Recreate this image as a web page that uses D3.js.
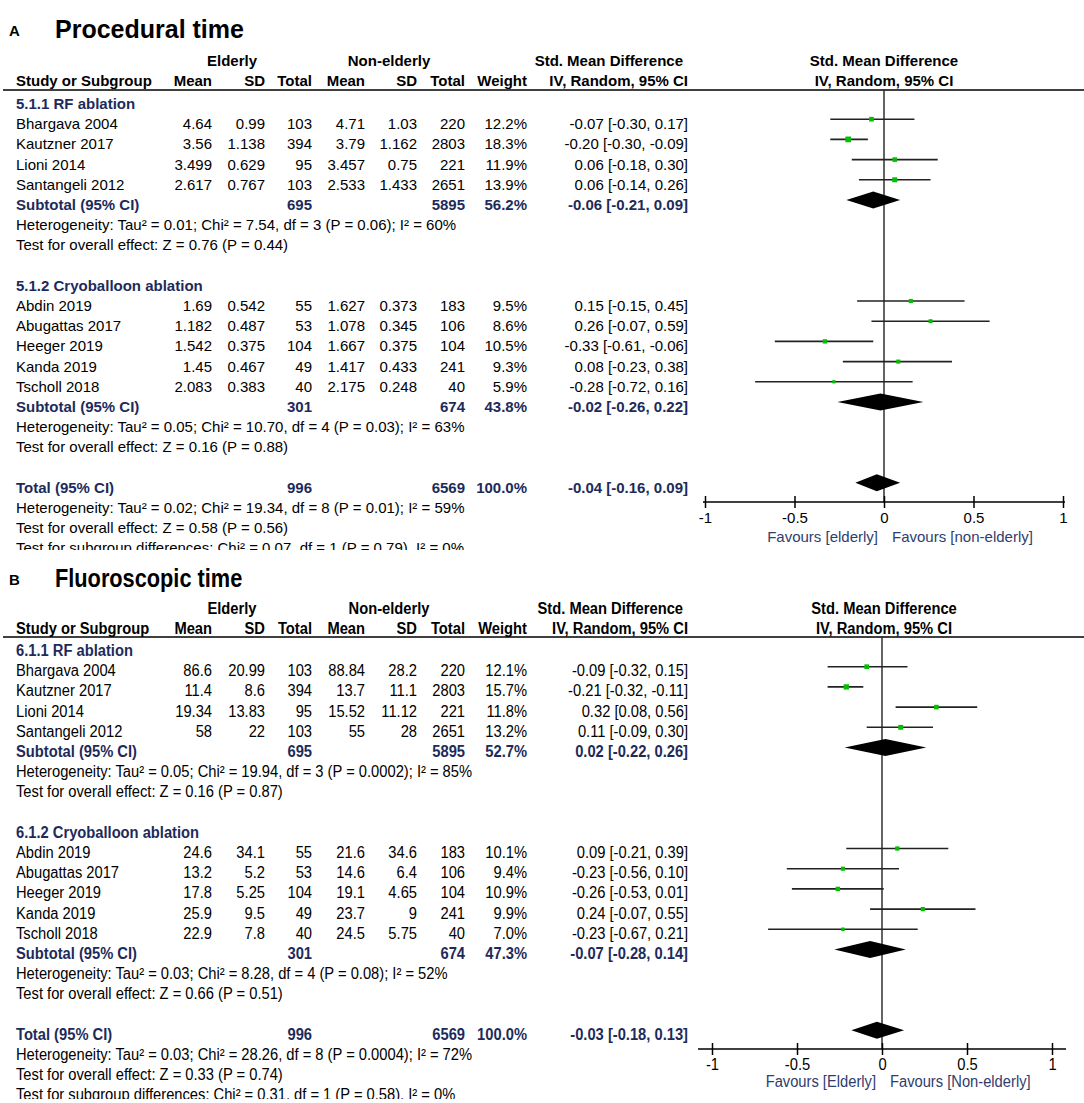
<!DOCTYPE html>
<html>
<head>
<meta charset="utf-8">
<script src="https://cdn.jsdelivr.net/npm/d3@7"></script>
<style>
body { margin: 0; background: #fff; }
svg text { font-family: "Liberation Sans", Arial, sans-serif; }
</style>
</head>
<body>
<svg id="chart" width="1084" height="1103"></svg>
<script>
// study names (same in both panels)
var studiesRF = ["Bhargava 2004", "Kautzner 2017", "Lioni 2014", "Santangeli 2012"];
var studiesCryo = ["Abdin 2019", "Abugattas 2017", "Heeger 2019", "Kanda 2019", "Tscholl 2018"];
var tickValues = [-1, -0.5, 0, 0.5, 1];

// A - procedural time
var procGroups = ["5.1.1 RF ablation", "5.1.2 Cryoballoon ablation"];
var procMeanE = [4.64, 3.56, 3.499, 2.617, 1.69, 1.182, 1.542, 1.45, 2.083];
var procSdE = [0.99, 1.138, 0.629, 0.767, 0.542, 0.487, 0.375, 0.467, 0.383];
var procNE = [103, 394, 95, 103, 55, 53, 104, 49, 40];
var procMeanN = [4.71, 3.79, 3.457, 2.533, 1.627, 1.078, 1.667, 1.417, 2.175];
var procSdN = [1.03, 1.162, 0.75, 1.433, 0.373, 0.345, 0.375, 0.433, 0.248];
var procNN = [220, 2803, 221, 2651, 183, 106, 104, 241, 40];
var procWeight = [12.2, 18.3, 11.9, 13.9, 9.5, 8.6, 10.5, 9.3, 5.9];
var procSmd = [-0.07, -0.20, 0.06, 0.06, 0.15, 0.26, -0.33, 0.08, -0.28];
var procLo = [-0.30, -0.30, -0.18, -0.14, -0.15, -0.07, -0.61, -0.23, -0.72];
var procHi = [0.17, -0.09, 0.30, 0.26, 0.45, 0.59, -0.06, 0.38, 0.16];
var procSubNE = [695, 301];
var procSubNN = [5895, 674];
var procSubWeight = [56.2, 43.8];
var procSubSmd = [-0.06, -0.02];
var procSubLo = [-0.21, -0.26];
var procSubHi = [0.09, 0.22];
var procTotalN = [996, 6569];
var procTotal = [-0.04, -0.16, 0.09];
var procHet = ["Heterogeneity: Tau\u00b2 = 0.01; Chi\u00b2 = 7.54, df = 3 (P = 0.06); I\u00b2 = 60%",
               "Heterogeneity: Tau\u00b2 = 0.05; Chi\u00b2 = 10.70, df = 4 (P = 0.03); I\u00b2 = 63%",
               "Heterogeneity: Tau\u00b2 = 0.02; Chi\u00b2 = 19.34, df = 8 (P = 0.01); I\u00b2 = 59%"];
var procZ = ["Test for overall effect: Z = 0.76 (P = 0.44)",
             "Test for overall effect: Z = 0.16 (P = 0.88)",
             "Test for overall effect: Z = 0.58 (P = 0.56)"];
var procDiff = "Test for subgroup differences: Chi\u00b2 = 0.07, df = 1 (P = 0.79), I\u00b2 = 0%";

// B - fluoroscopic time
var fluoGroups = ["6.1.1 RF ablation", "6.1.2 Cryoballoon ablation"];
var fluoMeanE = [86.6, 11.4, 19.34, 58, 24.6, 13.2, 17.8, 25.9, 22.9];
var fluoSdE = [20.99, 8.6, 13.83, 22, 34.1, 5.2, 5.25, 9.5, 7.8];
var fluoNE = [103, 394, 95, 103, 55, 53, 104, 49, 40];
var fluoMeanN = [88.84, 13.7, 15.52, 55, 21.6, 14.6, 19.1, 23.7, 24.5];
var fluoSdN = [28.2, 11.1, 11.12, 28, 34.6, 6.4, 4.65, 9, 5.75];
var fluoNN = [220, 2803, 221, 2651, 183, 106, 104, 241, 40];
var fluoWeight = [12.1, 15.7, 11.8, 13.2, 10.1, 9.4, 10.9, 9.9, 7.0];
var fluoSmd = [-0.09, -0.21, 0.32, 0.11, 0.09, -0.23, -0.26, 0.24, -0.23];
var fluoLo = [-0.32, -0.32, 0.08, -0.09, -0.21, -0.56, -0.53, -0.07, -0.67];
var fluoHi = [0.15, -0.11, 0.56, 0.30, 0.39, 0.10, 0.01, 0.55, 0.21];
var fluoSubNE = [695, 301];
var fluoSubNN = [5895, 674];
var fluoSubWeight = [52.7, 47.3];
var fluoSubSmd = [0.02, -0.07];
var fluoSubLo = [-0.22, -0.28];
var fluoSubHi = [0.26, 0.14];
var fluoTotalN = [996, 6569];
var fluoTotal = [-0.03, -0.18, 0.13];
var fluoHet = ["Heterogeneity: Tau\u00b2 = 0.05; Chi\u00b2 = 19.94, df = 3 (P = 0.0002); I\u00b2 = 85%",
               "Heterogeneity: Tau\u00b2 = 0.03; Chi\u00b2 = 8.28, df = 4 (P = 0.08); I\u00b2 = 52%",
               "Heterogeneity: Tau\u00b2 = 0.03; Chi\u00b2 = 28.26, df = 8 (P = 0.0004); I\u00b2 = 72%"];
var fluoZ = ["Test for overall effect: Z = 0.16 (P = 0.87)",
             "Test for overall effect: Z = 0.66 (P = 0.51)",
             "Test for overall effect: Z = 0.33 (P = 0.74)"];
var fluoDiff = "Test for subgroup differences: Chi\u00b2 = 0.31, df = 1 (P = 0.58), I\u00b2 = 0%";

var navy = "#1d2b5a";
var green = "#00c000";

var svg = d3.select("#chart");

// column right edges
var col = { left: 16, meanE: 212, sdE: 265, nE: 312, meanN: 365, sdN: 417, nN: 465, weight: 527, ci: 688 };

function num2(v) { return (v < 0 ? "-" : "") + Math.abs(v).toFixed(2); }
function ciText(e, lo, hi) { return num2(e) + " [" + num2(lo) + ", " + num2(hi) + "]"; }
function pct(v) { return v.toFixed(1) + "%"; }
function tickFmt(v) { return (v < 0 ? "-" : "") + Math.abs(v); }

function drawPanel(p) {
	var g = svg.append("g").attr("clip-path", "url(#" + p.id + ")");
	svg.append("clipPath").attr("id", p.id)
		.append("rect").attr("x", 0).attr("y", p.clipTop).attr("width", 1084).attr("height", p.clipBottom - p.clipTop);

	function txt(x, y, s, anchor, weight, fill, size) {
		return g.append("text")
			.attr("transform", "translate(" + x + "," + y + ") scale(" + p.sx + ",1)")
			.attr("text-anchor", anchor || "start")
			.attr("font-size", size || p.fs)
			.attr("font-weight", weight || "normal")
			.attr("fill", fill || "#000")
			.text(s);
	}

	// title
	g.append("text").attr("x", 9).attr("y", p.titleY - 2)
		.attr("font-size", 15).attr("font-weight", "bold").text(p.letter);
	g.append("text")
		.attr("transform", "translate(55," + p.titleY + ") scale(" + p.titleSx + ",1)")
		.attr("font-size", 25).attr("font-weight", "bold").text(p.title);

	// headers
	var h1 = p.headY, h2 = p.headY + 20;
	txt(232, h1, "Elderly", "middle", "bold");
	txt(389, h1, "Non-elderly", "middle", "bold");
	txt(683, h1, "Std. Mean Difference", "end", "bold");
	txt(884, h1, "Std. Mean Difference", "middle", "bold");
	txt(col.left, h2, "Study or Subgroup", "start", "bold");
	txt(col.meanE, h2, "Mean", "end", "bold");
	txt(col.sdE, h2, "SD", "end", "bold");
	txt(col.nE, h2, "Total", "end", "bold");
	txt(col.meanN, h2, "Mean", "end", "bold");
	txt(col.sdN, h2, "SD", "end", "bold");
	txt(col.nN, h2, "Total", "end", "bold");
	txt(col.weight, h2, "Weight", "end", "bold");
	txt(col.ci, h2, "IV, Random, 95% CI", "end", "bold");
	txt(884, h2, "IV, Random, 95% CI", "middle", "bold");

	g.append("line").attr("x1", 3).attr("x2", 1084)
		.attr("y1", p.lineY).attr("y2", p.lineY)
		.attr("stroke", "#000").attr("stroke-width", 1.5);

	// build the row list
	var rows = [];
	var groupsIdx = [[0, 1, 2, 3], [4, 5, 6, 7, 8]];
	groupsIdx.forEach(function(idx, k) {
		rows.push({ type: "group", k: k });
		idx.forEach(function(i) { rows.push({ type: "study", i: i, name: k === 0 ? studiesRF[i] : studiesCryo[i - 4] }); });
		rows.push({ type: "sub", k: k });
		rows.push({ type: "het", s: p.het[k] });
		rows.push({ type: "het", s: p.z[k] });
		rows.push({ type: "blank" });
	});
	rows.push({ type: "total" });
	rows.push({ type: "het", s: p.het[2] });
	rows.push({ type: "het", s: p.z[2] });
	rows.push({ type: "het", s: p.diff });
	rows.forEach(function(r, j) { r.row = j; });

	var yScale = d3.scaleLinear().domain([0, 1]).range([p.rowTop, p.rowTop + p.step]);
	var xScale = d3.scaleLinear().domain([-1, 1]).range(p.xRange);
	var sizeScale = d3.scaleSqrt().domain([0, 20]).range([0, 6]);

	rows.forEach(function(r) {
		var yb = yScale(r.row) + 5.5;
		if (r.type === "group") {
			txt(col.left, yb, p.groups[r.k], "start", "bold", navy);
		} else if (r.type === "study") {
			var i = r.i;
			txt(col.left, yb, r.name);
			txt(col.meanE, yb, String(p.meanE[i]), "end");
			txt(col.sdE, yb, String(p.sdE[i]), "end");
			txt(col.nE, yb, String(p.nE[i]), "end");
			txt(col.meanN, yb, String(p.meanN[i]), "end");
			txt(col.sdN, yb, String(p.sdN[i]), "end");
			txt(col.nN, yb, String(p.nN[i]), "end");
			txt(col.weight, yb, pct(p.weight[i]), "end");
			txt(col.ci, yb, ciText(p.smd[i], p.lo[i], p.hi[i]), "end");
		} else if (r.type === "sub") {
			var k = r.k;
			txt(col.left, yb, "Subtotal (95% CI)", "start", "bold", navy);
			txt(col.nE, yb, String(p.subNE[k]), "end", "bold", navy);
			txt(col.nN, yb, String(p.subNN[k]), "end", "bold", navy);
			txt(col.weight, yb, pct(p.subWeight[k]), "end", "bold", navy);
			txt(col.ci, yb, ciText(p.subSmd[k], p.subLo[k], p.subHi[k]), "end", "bold", navy);
		} else if (r.type === "total") {
			txt(col.left, yb, "Total (95% CI)", "start", "bold", navy);
			txt(col.nE, yb, String(p.totalN[0]), "end", "bold", navy);
			txt(col.nN, yb, String(p.totalN[1]), "end", "bold", navy);
			txt(col.weight, yb, "100.0%", "end", "bold", navy);
			txt(col.ci, yb, ciText(p.total[0], p.total[1], p.total[2]), "end", "bold", navy);
		} else if (r.type === "het") {
			txt(col.left, yb, r.s);
		}
	});

	// plot: zero line
	var axisY = p.axisY;
	g.append("line")
		.attr("x1", xScale(0)).attr("x2", xScale(0))
		.attr("y1", p.lineY).attr("y2", axisY)
		.attr("stroke", "#222").attr("stroke-width", 1.4);

	var studyRows = rows.filter(function(r) { return r.type === "study"; });
	var my = function(r) { return yScale(r.row) - p.markOff; };

	g.selectAll(".ci")
		.data(studyRows)
		.enter()
		.append("line")
		.attr("class", "ci")
		.attr("x1", function(r) { return xScale(p.lo[r.i]); })
		.attr("x2", function(r) { return xScale(p.hi[r.i]); })
		.attr("y1", my).attr("y2", my)
		.attr("stroke", "#222").attr("stroke-width", 1.6);

	g.selectAll(".box")
		.data(studyRows)
		.enter()
		.append("rect")
		.attr("class", "box")
		.attr("x", function(r) { return xScale(p.smd[r.i]) - sizeScale(p.weight[r.i]) / 2; })
		.attr("y", function(r) { return my(r) - sizeScale(p.weight[r.i]) / 2; })
		.attr("width", function(r) { return sizeScale(p.weight[r.i]); })
		.attr("height", function(r) { return sizeScale(p.weight[r.i]); })
		.attr("fill", green);

	// diamonds
	var dRows = rows.filter(function(r) { return r.type === "sub" || r.type === "total"; });
	g.selectAll(".diamond")
		.data(dRows)
		.enter()
		.append("path")
		.attr("class", "diamond")
		.attr("d", function(r) {
			var e, lo, hi;
			if (r.type === "sub") { e = p.subSmd[r.k]; lo = p.subLo[r.k]; hi = p.subHi[r.k]; }
			else { e = p.total[0]; lo = p.total[1]; hi = p.total[2]; }
			var y = my(r), hh = 8.5;
			return "M" + xScale(lo) + "," + y + "L" + xScale(e) + "," + (y - hh) +
				"L" + xScale(hi) + "," + y + "L" + xScale(e) + "," + (y + hh) + "Z";
		})
		.attr("fill", "#000");

	// axis
	var axisG = g.append("g")
		.attr("transform", "translate(0," + axisY + ")")
		.call(d3.axisBottom(xScale).tickValues(tickValues).tickFormat(tickFmt).tickSizeOuter(0).tickSize(5).tickPadding(p.tickPad));
	axisG.select(".domain").remove();
	axisG.append("line")
		.attr("x1", xScale(-1) - p.axisPad).attr("x2", xScale(1) + p.axisPad)
		.attr("y1", 0).attr("y2", 0)
		.attr("stroke", "#000").attr("stroke-width", 1.5);
	axisG.selectAll(".tick line").attr("y1", -6).attr("y2", 6).attr("stroke", "#000").attr("stroke-width", 1.5);
	axisG.selectAll(".tick text")
		.attr("font-size", p.fs)
		.attr("font-family", "'Liberation Sans', Arial, sans-serif")
		.attr("fill", "#000")
		.attr("transform", "scale(" + p.sx + ",1)");

	txt(xScale(0) - 6, axisY + p.favOff, p.favL, "end", "normal", "#2e3d6e");
	txt(xScale(0) + 8, axisY + p.favOff, p.favR, "start", "normal", "#2e3d6e");
}

drawPanel({
	id: "clipA", letter: "A", title: "Procedural time",
	clipTop: 0, clipBottom: 550, titleY: 38, titleSx: 1,
	headY: 66, lineY: 90, rowTop: 103.5, step: 20.2,
	xRange: [705, 1063], axisY: 502, axisPad: 2, tickPad: 5, favOff: 40, markOff: 4.5,
	sx: 1, fs: 15,
	groups: procGroups,
	meanE: procMeanE, sdE: procSdE, nE: procNE, meanN: procMeanN, sdN: procSdN, nN: procNN,
	weight: procWeight, smd: procSmd, lo: procLo, hi: procHi,
	subNE: procSubNE, subNN: procSubNN, subWeight: procSubWeight,
	subSmd: procSubSmd, subLo: procSubLo, subHi: procSubHi,
	totalN: procTotalN, total: procTotal,
	het: procHet, z: procZ, diff: procDiff,
	favL: "Favours [elderly]", favR: "Favours [non-elderly]"
});

drawPanel({
	id: "clipB", letter: "B", title: "Fluoroscopic time",
	clipTop: 555, clipBottom: 1099, titleY: 587, titleSx: 0.87,
	headY: 614, lineY: 637, rowTop: 650.5, step: 20.2,
	xRange: [712, 1052], axisY: 1049, axisPad: 14, tickPad: 5, favOff: 38, markOff: 4,
	sx: 0.92, fs: 16,
	groups: fluoGroups,
	meanE: fluoMeanE, sdE: fluoSdE, nE: fluoNE, meanN: fluoMeanN, sdN: fluoSdN, nN: fluoNN,
	weight: fluoWeight, smd: fluoSmd, lo: fluoLo, hi: fluoHi,
	subNE: fluoSubNE, subNN: fluoSubNN, subWeight: fluoSubWeight,
	subSmd: fluoSubSmd, subLo: fluoSubLo, subHi: fluoSubHi,
	totalN: fluoTotalN, total: fluoTotal,
	het: fluoHet, z: fluoZ, diff: fluoDiff,
	favL: "Favours [Elderly]", favR: "Favours [Non-elderly]"
});
</script>
</body>
</html>
